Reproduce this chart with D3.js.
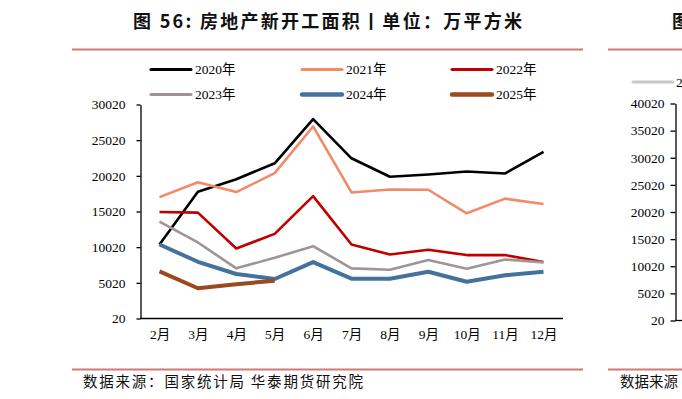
<!DOCTYPE html>
<html><head><meta charset="utf-8">
<script src="https://cdn.jsdelivr.net/npm/d3@7"></script>
<style>
html,body{margin:0;padding:0;background:#fff;}
svg{display:block;}
</style></head>
<body>
<svg id="c" width="682" height="399"></svg>
<script>
const months = ["2月","3月","4月","5月","6月","7月","8月","9月","10月","11月","12月"];
const yTicks = [20,5020,10020,15020,20020,25020,30020];
const yTicksRight = [20,5020,10020,15020,20020,25020,30020,35020,40020];
const s2020 = [10400,17800,19550,21780,27980,22480,19890,20200,20620,20350,23370];
const s2021 = [17040,19130,17740,20390,26940,17690,18110,18070,14770,16820,16060];
const s2022 = [14950,14860,9840,11880,17180,10400,9000,9650,8910,8910,7930];
const s2023 = [13610,10680,7050,8530,10160,7050,6860,8210,7000,8300,7890];
const s2024 = [10400,7970,6260,5560,7930,5600,5600,6580,5180,6070,6580];
const s2025 = [6630,4260,4820,5320];
const seriesNames = ["2020年","2021年","2022年","2023年","2024年","2025年"];
const seriesColors = ["#000000","#F28A68","#C00000","#A09594","#44729C","#9A4A1E"];
const seriesWidths = [2.6,2.6,2.6,2.6,4,4];
const seriesData = [s2020,s2021,s2022,s2023,s2024,s2025];

const svg = d3.select("#c");
const serif = "'Liberation Serif','Times New Roman','DejaVu Serif','Noto Sans CJK SC',serif";
const sans = "'Noto Sans CJK SC','Microsoft YaHei',sans-serif";
const lineCol = "#C9625F";

// Title
svg.append("text").attr("x",133).attr("y",28)
  .attr("font-family",sans).attr("font-weight","bold").attr("font-size",18)
  .attr("textLength",389).attr("lengthAdjust","spacing")
  .attr("fill","#111").text("图 56: 房地产新开工面积丨单位：万平方米");
svg.append("text").attr("x",672).attr("y",28)
  .attr("font-family",sans).attr("font-weight","bold").attr("font-size",18)
  .attr("fill","#111").text("图");
// separators
svg.append("line").attr("x1",72).attr("x2",583).attr("y1",49.5).attr("y2",49.5).attr("stroke",lineCol).attr("stroke-width",2).attr("opacity",0.85);
svg.append("line").attr("x1",608).attr("x2",682).attr("y1",49.5).attr("y2",49.5).attr("stroke",lineCol).attr("stroke-width",2).attr("opacity",0.85);
svg.append("line").attr("x1",72).attr("x2",583).attr("y1",369.5).attr("y2",369.5).attr("stroke",lineCol).attr("stroke-width",2).attr("opacity",0.85);
svg.append("line").attr("x1",608).attr("x2",682).attr("y1",369.5).attr("y2",369.5).attr("stroke",lineCol).attr("stroke-width",2).attr("opacity",0.85);
// source
svg.append("text").attr("x",83).attr("y",387).attr("font-family",sans).attr("font-size",14.5)
  .attr("textLength",280).attr("lengthAdjust","spacing")
  .attr("fill","#111").text("数据来源：国家统计局  华泰期货研究院");
svg.append("text").attr("x",620).attr("y",387).attr("font-family",sans).attr("font-size",14.5)
  .attr("fill","#111").text("数据来源");

// Main chart scales
const x = d3.scalePoint().domain(months).range([159.5,543.5]);
const y = d3.scaleLinear().domain([20,30020]).range([318.5,104.5]);

// y axis
const yAxis = d3.axisLeft(y).tickValues(yTicks).tickSize(4).tickSizeOuter(0).tickPadding(11).tickFormat(d3.format("d"));
const gy = svg.append("g").attr("transform","translate(140.5,0)").call(yAxis);
gy.attr("font-family",serif);
gy.select(".domain").attr("stroke","#000").attr("stroke-width",1.3);
gy.selectAll(".tick line").attr("stroke","#000").attr("stroke-width",1.3);
gy.selectAll(".tick text").attr("font-family",serif).attr("font-size",13.5).attr("fill","#000");

// x axis
const xAxis = d3.axisBottom(x).tickSize(0).tickPadding(11);
const gx = svg.append("g").attr("transform","translate(0,318.5)").call(xAxis);
gx.attr("font-family",serif);
gx.select(".domain").remove();
gx.append("line").attr("x1",140).attr("x2",563).attr("y1",0).attr("y2",0).attr("stroke","#000").attr("stroke-width",1.3);
gx.selectAll(".tick text").attr("font-family",serif).attr("font-size",13.5).attr("fill","#000");

// lines
const line = d3.line().x((d,i)=>x(months[i])).y(d=>y(d));
seriesData.forEach((s,k)=>{
  svg.append("path").datum(s).attr("d",line).attr("fill","none")
    .attr("stroke",seriesColors[k]).attr("stroke-width",seriesWidths[k])
    .attr("stroke-linejoin","round").attr("stroke-linecap","butt");
});

// legend
const legX = [151,302,452];
const legY = [69.5,94.5];
seriesNames.forEach((n,k)=>{
  const lx = legX[k%3], ly = legY[Math.floor(k/3)];
  svg.append("line").attr("x1",lx).attr("x2",lx+40).attr("y1",ly).attr("y2",ly)
    .attr("stroke",seriesColors[k]).attr("stroke-width",seriesWidths[k]+0.4).attr("stroke-linecap","round");
  svg.append("text").attr("x",lx+44).attr("y",ly+4.5).attr("font-family",serif).attr("font-size",13.5)
    .attr("fill","#000").text(n);
});

// right partial chart
const yR = d3.scaleLinear().domain([20,40020]).range([320.5,103.5]);
const yAxisR = d3.axisLeft(yR).tickValues(yTicksRight).tickSize(5).tickSizeOuter(0).tickPadding(6).tickFormat(d3.format("d"));
const gyR = svg.append("g").attr("transform","translate(675.5,0)").call(yAxisR);
gyR.attr("font-family",serif);
gyR.select(".domain").attr("stroke","#000").attr("stroke-width",1.3);
gyR.selectAll(".tick line").attr("stroke","#000").attr("stroke-width",1.3);
gyR.selectAll(".tick text").attr("font-family",serif).attr("font-size",13.5).attr("fill","#000");
svg.append("line").attr("x1",675).attr("x2",682).attr("y1",320.5).attr("y2",320.5).attr("stroke","#000").attr("stroke-width",1.3);
svg.append("line").attr("x1",633).attr("x2",673).attr("y1",82).attr("y2",82).attr("stroke","#C8C8C8").attr("stroke-width",3).attr("stroke-linecap","round");
svg.append("text").attr("x",676).attr("y",86.5).attr("font-family",serif).attr("font-size",13.5).attr("fill","#000").text("2");
</script>
</body></html>
